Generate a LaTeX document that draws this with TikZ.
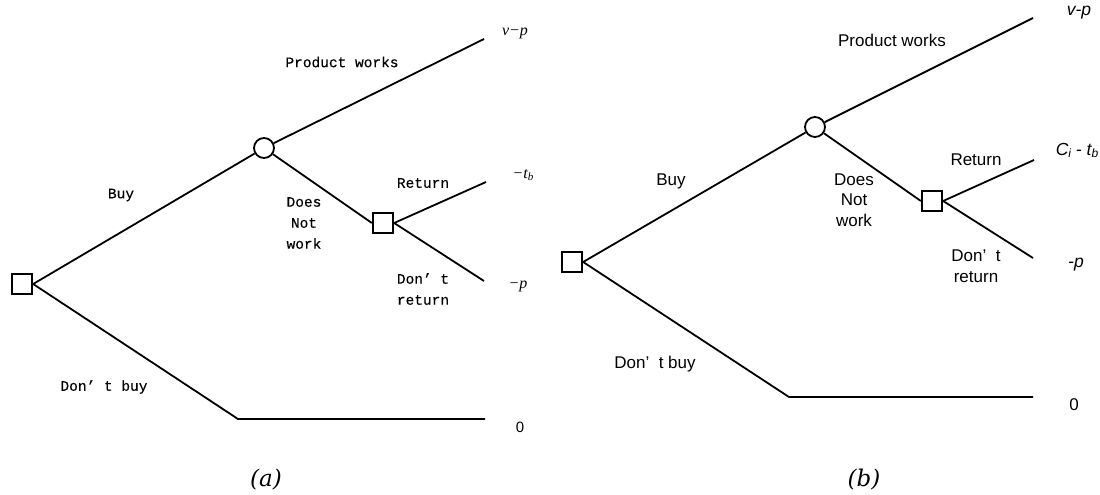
\documentclass[tikz,border=0pt]{standalone}
\usepackage{fontspec}
\setmainfont{Liberation Sans}
\newfontfamily\monoA[FakeBold=0.3]{Liberation Mono}
\newfontfamily\capfont{DejaVu Serif}
\newfontfamily\serifA{Liberation Serif}
\begin{document}
\begin{tikzpicture}[x=1pt,y=-1pt,
  br/.style={line width=1.8pt},
  sq/.style={draw,line width=1.8pt,rectangle,minimum size=20.5pt,inner sep=0pt},
  ch/.style={draw,line width=1.8pt,circle,minimum size=20pt,inner sep=0pt},
  lbla/.style={font=\monoA\fontsize{14.5}{21}\selectfont,align=center,inner sep=0pt},
  lblb/.style={font=\fontsize{17}{20.5}\selectfont,align=center,inner sep=0pt},
  paya/.style={font=\serifA\itshape\fontsize{16}{18}\selectfont,inner sep=0pt},
  payb/.style={font=\itshape\fontsize{17.5}{20}\selectfont,inner sep=0pt},
  capt/.style={font=\capfont\itshape\fontsize{23}{26}\selectfont,inner sep=0pt}]
\useasboundingbox (0,0) rectangle (1100,495);

% ---------------- panel (a)
\node[sq] (rootA) at (22,284) {};
\node[ch] (chA) at (264,148) {};
\node[sq] (decA) at (383,223) {};
\coordinate (vpA) at (484,39);
\coordinate (retA) at (486,182);
\coordinate (drA) at (484,281);
\coordinate (cornA) at (238,419);
\coordinate (zeroA) at (485,419);
\draw[br] (rootA.east) -- (chA);
\draw[br] (chA) -- (vpA);
\draw[br] (chA) -- (decA.west);
\draw[br] (decA.east) -- (retA);
\draw[br] (decA.east) -- (drA);
\draw[br] (rootA.east) -- (cornA) -- (zeroA);

\node[lbla] (pwA) at (342,62) {Product works};
\node[lbla] (buyA) at (121,195) {Buy};
\node[lbla] (dnwA) at (304,223) {Does\\Not\\work};
\node[lbla] (retlA) at (423,183) {Return};
\node[lbla,align=left] (drlA) at (423,289) {Don’ t\\return};
\node[lbla] (dbA) at (104,387) {Don’ t buy};
\node[paya] (pvpA) at (515,33) {v−p};
\node[paya] (ptbA) at (523,175) {−t{\fontsize{11}{11}\selectfont\raisebox{-2pt}{b}}};
\node[paya] (ppA) at (518,286) {−p};
\node[font=\fontsize{15}{17}\selectfont,inner sep=0pt] (p0A) at (520,427) {0};
\node[capt] (capA) at (266,480) {(a)};

% ---------------- panel (b)
\node[sq] (rootB) at (572,262) {};
\node[ch] (chB) at (815,127) {};
\node[sq] (decB) at (932,201) {};
\coordinate (vpB) at (1033,18);
\coordinate (retB) at (1034,160);
\coordinate (drB) at (1033,258);
\coordinate (cornB) at (789,397);
\coordinate (zeroB) at (1033,397);
\draw[br] (rootB.east) -- (chB);
\draw[br] (chB) -- (vpB);
\draw[br] (chB) -- (decB.west);
\draw[br] (decB.east) -- (retB);
\draw[br] (decB.east) -- (drB);
\draw[br] (rootB.east) -- (cornB) -- (zeroB);

\node[lblb] (pwB) at (892,40) {Product works};
\node[lblb] (buyB) at (671,181) {Buy};
\node[lblb] (dnwB) at (854,200) {Does\\Not\\work};
\node[lblb] (retlB) at (976,160) {Return};
\node[lblb] (drlB) at (976,266) {Don’\ \ t\\return};
\node[lblb] (dbB) at (655,364) {Don’\ \ t buy};
\node[payb] (pvpB) at (1079,13) {v-p};
\node[payb] (ptbB) at (1077,150) {C{\fontsize{12}{12}\selectfont\raisebox{-2pt}{i}} - t{\fontsize{12}{12}\selectfont\raisebox{-2pt}{b}}};
\node[payb] (ppB) at (1076,265) {-p};
\node[font=\fontsize{17}{19}\selectfont,inner sep=0pt] (p0B) at (1074,405) {0};
\node[capt] (capB) at (864,480) {(b)};
\end{tikzpicture}
\end{document}
